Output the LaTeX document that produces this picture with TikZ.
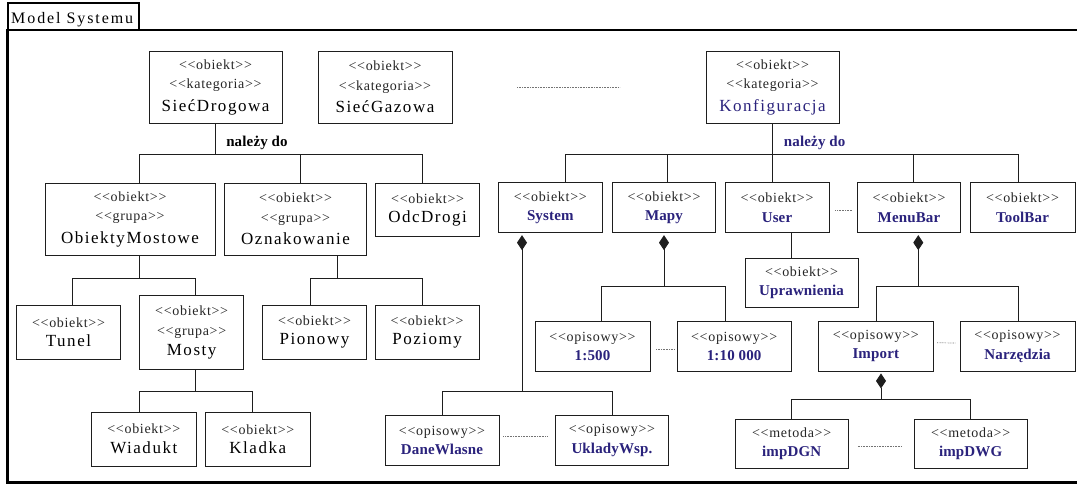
\documentclass[tikz,border=0pt]{standalone}
\usepackage{fontspec}
\setmainfont{Liberation Serif}
% stereotype lines, plain names, bold names, frame title
\newfontfamily\stf{Liberation Serif}[LetterSpace=5,Ligatures=TeXOff]
\newfontfamily\nmf{Liberation Serif}[LetterSpace=9]
\newfontfamily\bnf{Liberation Serif}[LetterSpace=1]
\newfontfamily\ttlf{Liberation Serif}[LetterSpace=12]
\usetikzlibrary{arrows.meta}
\definecolor{kblue}{RGB}{42,34,124}
\definecolor{edge}{RGB}{30,30,30}

\newcommand\nameR[1]{{\nmf\fontsize{17}{19.5}\selectfont\color{black}#1}}
\newcommand\nameK[1]{{\nmf\fontsize{17}{19.5}\selectfont\color{kblue}#1}}
\newcommand\nameB[1]{{\bnf\bfseries\fontsize{15}{19.5}\selectfont\color{kblue}#1}}
% \bx{name}{x0}{y0}{x1}{y1}{text}: box given by its corners
\newcommand\bx[6]{\node[umlbox,minimum width={#4-#2},minimum height={#5-#3}]
  (#1) at ({(#2+#4)/2},{(#3+#5)/2}) {#6};}

\begin{document}
\begin{tikzpicture}[x=1pt,y=-1pt,
  umlbox/.style={draw=edge,line width=0.9pt,fill=white,inner sep=0pt,
    align=center,text=black!85,font=\stf\fontsize{14}{19.5}\selectfont},
  link/.style={draw=edge,line width=0.9pt},
  comp/.style={link,{Diamond[length=15pt,width=10pt]}-,shorten <=2pt},
  dots/.style={draw=black!55,line width=0.7pt,dash pattern=on 0.7pt off 0.9pt},
  tag/.style={inner sep=0pt,anchor=base,font=\bnf\bfseries\fontsize{15}{17}\selectfont}]
\useasboundingbox (0,0) rectangle (1077,484);

% frame and its title tab
\draw[line width=2.4pt] (7.5,30) rectangle (1082,482.6);
\draw[line width=2pt] (7.5,3) rectangle (139,30);
\node[inner sep=0pt,anchor=base west,font=\ttlf\fontsize{16}{19}\selectfont] (title) at (11,23.3) {Model Systemu};

% categories
\bx{sd}{149}{51}{282}{123}{<<obiekt>>\\<<kategoria>>\\[3pt]\nameR{SiećDrogowa}}
\bx{sg}{318}{51}{452}{123}{<<obiekt>>\\<<kategoria>>\\[3pt]\nameR{SiećGazowa}}
\bx{kf}{706}{51}{839}{123}{<<obiekt>>\\<<kategoria>>\\[3pt]\nameK{Konfiguracja}}
\draw[dots,shorten <=64.7pt,shorten >=86pt] (sg.east) -- (kf.west);

\node[tag] (ndL) at (257,146.5) {należy do};
\node[tag,text=kblue] (ndR) at (814.7,146.5) {należy do};

% road network branch
\bx{om}{45}{183}{215}{255}{<<obiekt>>\\<<grupa>>\\[3pt]\nameR{ObiektyMostowe}}
\bx{oz}{224.3}{183}{366.7}{255}{<<obiekt>>\\<<grupa>>\\[3pt]\nameR{Oznakowanie}}
\bx{od}{375.7}{183}{479.5}{236.5}{<<obiekt>>\\\nameR{OdcDrogi}}
\bx{tu}{16.5}{305}{120.5}{359}{<<obiekt>>\\\nameR{Tunel}}
\bx{mo}{139.5}{295.7}{243.8}{369.5}{<<obiekt>>\\<<grupa>>\\[1pt]\nameR{Mosty}}
\bx{wi}{91.3}{412}{196.3}{466}{<<obiekt>>\\\nameR{Wiadukt}}
\bx{kl}{205.6}{412}{310}{466}{<<obiekt>>\\\nameR{Kladka}}
\bx{pi}{262.3}{305}{366.7}{359}{<<obiekt>>\\\nameR{Pionowy}}
\bx{po}{375}{305}{479.3}{359}{<<obiekt>>\\\nameR{Poziomy}}

\draw[link] (sd.south) -- ++(0,31.5) coordinate (jA);
\draw[link] (jA) -| ([xshift=9.3pt]om.north);
\draw[link] (jA) -| ([xshift=4.5pt]oz.north);
\draw[link] (jA) -| ([xshift=-4.9pt]od.north);

\draw[link] ([xshift=9.3pt]om.south) -- ++(0,22.7) coordinate (jB);
\draw[link] (jB) -| ([xshift=4.2pt]tu.north);
\draw[link] (jB) -| ([xshift=4pt]mo.north);

\draw[link] ([xshift=4pt]mo.south) -- ++(0,21) coordinate (jC);
\draw[link] (jC) -| ([xshift=-4.3pt]wi.north);
\draw[link] (jC) -| ([xshift=-5.5pt]kl.north);

\draw[link] ([xshift=41.8pt]oz.south) -- ++(0,22.7) coordinate (jD);
\draw[link] (jD) -| ([xshift=-4.5pt]pi.north);
\draw[link] (jD) -| ([xshift=-4.3pt]po.north);

% configuration branch
\bx{sys}{498.3}{182.5}{602.3}{232.7}{<<obiekt>>\\\nameB{System}}
\bx{mp}{612.3}{182.5}{715.7}{232.7}{<<obiekt>>\\\nameB{Mapy}}
\bx{us}{725}{182.5}{829}{232.7}{<<obiekt>>\\\nameB{User}}
\bx{mb}{857.3}{182.5}{960.7}{232.7}{<<obiekt>>\\\nameB{MenuBar}}
\bx{tb}{970}{182.5}{1075}{232.7}{<<obiekt>>\\\nameB{ToolBar}}
\bx{up}{745}{258.3}{858}{307.5}{<<obiekt>>\\\nameB{Uprawnienia}}
\bx{m5}{535}{321.7}{650}{371}{<<opisowy>>\\\nameB{1:500}}
\bx{m10}{677.3}{321.7}{791}{371}{<<opisowy>>\\\nameB{1:10 000}}
\bx{im}{818.3}{321}{933.3}{371}{<<opisowy>>\\\nameB{Import}}
\bx{nz}{960}{321.7}{1075}{371}{<<opisowy>>\\\nameB{Narzędzia}}
\bx{dw}{385}{415.5}{499}{465.5}{<<opisowy>>\\\nameB{DaneWlasne}}
\bx{uk}{555.7}{415.7}{668.3}{465.3}{<<opisowy>>\\\nameB{UkladyWsp.}}
\bx{dg}{735}{419}{848.3}{468.3}{<<metoda>>\\\nameB{impDGN}}
\bx{dwg}{914}{419}{1027.3}{468.3}{<<metoda>>\\\nameB{impDWG}}

\draw[link] (kf.south) -- ++(0,31.5) coordinate (jE);
\draw[link] (jE) -| ([xshift=14.7pt]sys.north);
\draw[link] (jE) -| ([xshift=3.7pt]mp.north);
\draw[link] (jE) -| ([xshift=-4.5pt]us.north);
\draw[link] (jE) -| ([xshift=4.5pt]mb.north);
\draw[link] (jE) -| ([xshift=-4pt]tb.north);

\draw[link] ([xshift=14.7pt]us.south) -- ([xshift=-9.8pt]up.north);

\draw[comp] ([xshift=-28.3pt]sys.south) -- ++(0,157.8) coordinate (jF);
\draw[link] (jF) -| (dw.north);
\draw[link] (jF) -| (uk.north);

\draw[comp] (mp.south) -- ++(0,53.3) coordinate (jG);
\draw[link] (jG) -| ([xshift=9.2pt]m5.north);
\draw[link] (jG) -| ([xshift=-9.2pt]m10.north);

\draw[comp] ([xshift=9.3pt]mb.south) -- ++(0,53.3) coordinate (jH);
\draw[link] (jH) -| ([xshift=0.7pt]im.north);
\draw[link] (jH) -| ([xshift=0.8pt]nz.north);

\draw[comp] ([xshift=5.2pt]im.south) -- ++(0,28.3) coordinate (jI);
\draw[link] (jI) -| (dg.north);
\draw[link] (jI) -| (dwg.north);

% dotted "and more" marks between siblings
\draw[dots,shorten <=6pt,shorten >=4pt] ([yshift=-2.4pt]us.east) -- ([yshift=-2.4pt]mb.west);
\draw[dots,shorten <=5.7pt,shorten >=2.3pt] ([yshift=-2.7pt]m5.east) -- ([yshift=-2.7pt]m10.west);
\draw[dots,shorten <=3.4pt,shorten >=4.3pt] ([yshift=3.3pt]im.east) -- ([yshift=3.3pt]nz.west);
\draw[dots,shorten <=4pt,shorten >=7.7pt] ([yshift=3.8pt]dw.east) -- ([yshift=3.8pt]uk.west);
\draw[dots,shorten <=9pt,shorten >=11.3pt] ([yshift=-2.4pt]dg.east) -- ([yshift=-2.4pt]dwg.west);
\end{tikzpicture}
\end{document}
